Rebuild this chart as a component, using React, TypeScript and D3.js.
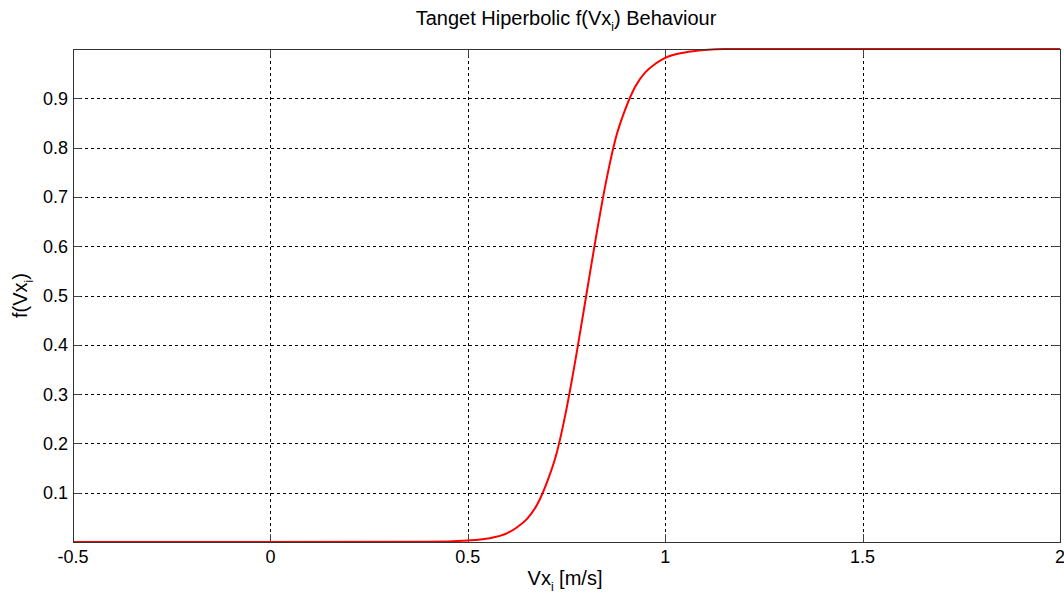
import React from 'react'
import * as d3 from 'd3'

// curve samples
const xs = [-0.5, 0.4, 0.5, 0.55, 0.6, 0.625, 0.65, 0.675, 0.7, 0.725, 0.75, 0.775, 0.8, 0.825, 0.85, 0.875, 0.9, 0.925, 0.95, 0.975, 1.0, 1.05, 1.1, 1.15, 2]
const ys = [0, 0.0003, 0.003, 0.007, 0.018, 0.03, 0.047, 0.075, 0.12, 0.18, 0.27, 0.38, 0.5, 0.62, 0.73, 0.82, 0.88, 0.925, 0.953, 0.97, 0.982, 0.993, 0.998, 1, 1]

const xTicks = [-0.5, 0, 0.5, 1, 1.5, 2]
const yTicks = [0.1, 0.2, 0.3, 0.4, 0.5, 0.6, 0.7, 0.8, 0.9]

const W = 1064
const H = 596
const m = { left: 73, right: 1060, top: 49, bottom: 542 }
const font = '"Liberation Sans", Arial, sans-serif'

export default function App() {
  const x = d3.scaleLinear().domain([-0.5, 2]).range([m.left, m.right])
  const y = d3.scaleLinear().domain([0, 1]).range([m.bottom, m.top])
  const pts: [number, number][] = xs.map((v, i) => [v, ys[i]])
  const line = d3.line<[number, number]>()
    .x(d => x(d[0]))
    .y(d => y(d[1]))
    .curve(d3.curveMonotoneX)

  return (
    <svg width={W} height={H} style={{ position: 'absolute', left: 0, top: 0, background: '#fff' }} fontFamily={font}>
      <rect x={0} y={0} width={W} height={H} fill="#fff" />
      {/* grid */}
      {xTicks.slice(1, -1).map(t => (
        <line key={'gx' + t} x1={Math.round(x(t)) + 0.5} x2={Math.round(x(t)) + 0.5} y1={m.top} y2={m.bottom}
          stroke="#000" strokeWidth={1} strokeDasharray="3,3" />
      ))}
      {yTicks.map(t => (
        <line key={'gy' + t} x1={m.left} x2={m.right} y1={Math.round(y(t)) + 0.5} y2={Math.round(y(t)) + 0.5}
          stroke="#000" strokeWidth={1} strokeDasharray="3,3" />
      ))}
      {/* ticks */}
      {xTicks.map(t => (
        <g key={'tx' + t}>
          <line x1={Math.round(x(t)) + 0.5} x2={Math.round(x(t)) + 0.5} y1={m.bottom} y2={m.bottom - 8} stroke="#444" />
          <line x1={Math.round(x(t)) + 0.5} x2={Math.round(x(t)) + 0.5} y1={m.top} y2={m.top + 8} stroke="#444" />
          <text x={x(t)} y={m.bottom + 21} fontSize={18} textAnchor="middle" fill="#000">{t}</text>
        </g>
      ))}
      {yTicks.map(t => (
        <g key={'ty' + t}>
          <line x1={m.left} x2={m.left + 8} y1={Math.round(y(t)) + 0.5} y2={Math.round(y(t)) + 0.5} stroke="#444" />
          <line x1={m.right} x2={m.right - 8} y1={Math.round(y(t)) + 0.5} y2={Math.round(y(t)) + 0.5} stroke="#444" />
          <text x={m.left - 5} y={y(t) + 6.5} fontSize={18} textAnchor="end" fill="#000">{t}</text>
        </g>
      ))}
      {/* curve */}
      <path d={line(pts) || ''} fill="none" stroke="#ff0000" strokeWidth={2} />
      {/* frame */}
      <rect x={m.left + 0.5} y={m.top + 0.5} width={m.right - m.left} height={m.bottom - m.top}
        fill="none" stroke="#333" strokeWidth={1} />
      {/* title */}
      <text x={566} y={25} fontSize={20} textAnchor="middle" fill="#000">
        Tanget Hiperbolic f(Vx<tspan fontSize={12} dy={6}>i</tspan><tspan dy={-6}>) Behaviour</tspan>
      </text>
      <text x={565} y={585} fontSize={20} textAnchor="middle" fill="#000">
        Vx<tspan fontSize={12} dy={6}>i</tspan><tspan dy={-6}> [m/s]</tspan>
      </text>
      <text transform={`translate(27,${(m.top + m.bottom) / 2}) rotate(-90)`} fontSize={20} textAnchor="middle" fill="#000">
        f(Vx<tspan fontSize={12} dy={6}>i</tspan><tspan dy={-6}>)</tspan>
      </text>
    </svg>
  )
}
